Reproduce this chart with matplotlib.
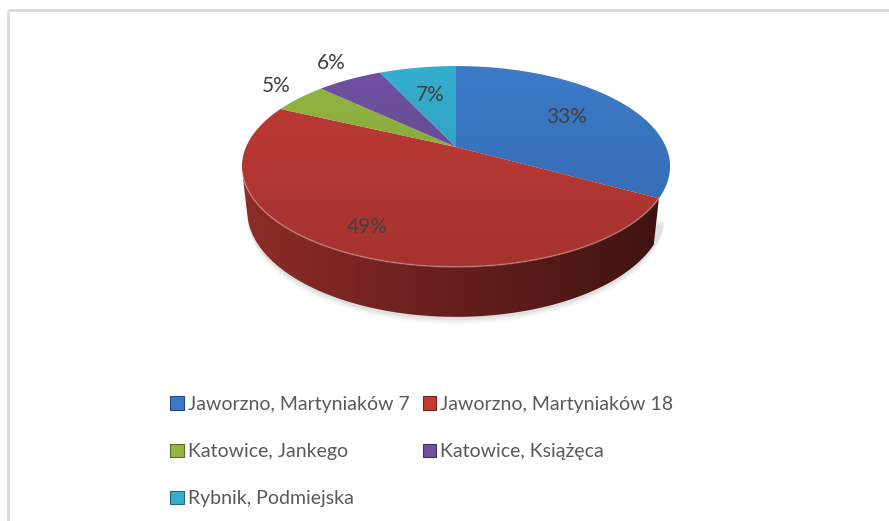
import numpy as np
import matplotlib
matplotlib.use("Agg")
import matplotlib.pyplot as plt
from matplotlib.patches import Polygon, Rectangle
from matplotlib.colors import to_rgb

# data
labels = ["Jaworzno, Martyniaków 7", "Jaworzno, Martyniaków 18",
          "Katowice, Jankego", "Katowice, Książęca", "Rybnik, Podmiejska"]
values = [33, 49, 5, 6, 7]
colors = ["#3c7ac8", "#c03b36", "#93b642", "#6f51a0", "#35aecf"]

# layout of the 3d pie (pixels)
W, H = 889, 521
cx, cy = 456, 147
elev = np.radians(27.4)
dist = 4.577
focal = 961.0
depth = 0.238
label_r = [0.65, 0.8, 1.17, 1.2, 0.62]


def proj(x, y, z):
    # perspective projection of a point of the unit-radius pie
    qy = y + dist * np.cos(elev)
    qz = z - dist * np.sin(elev)
    d = qy * np.cos(elev) - qz * np.sin(elev)
    up = qy * np.sin(elev) + qz * np.cos(elev)
    return cx + focal * x / d, cy - focal * up / d


def arc(t0, t1, z, r=1.0, n=200):
    t = np.radians(np.linspace(t0, t1, n))
    return proj(r * np.cos(t), r * np.sin(t), z)


fig = plt.figure(figsize=(W / 100, H / 100), dpi=100)
ax = fig.add_axes([0, 0, 1, 1])
ax.set_xlim(0, W)
ax.set_ylim(H, 0)
ax.axis("off")

# chart border (only top and left visible)
ax.plot([8, W], [10, 10], color="#d9d9d9", lw=2, solid_capstyle="butt")
ax.plot([8, 8], [10, H], color="#d9d9d9", lw=2, solid_capstyle="butt")

yy, xx = np.mgrid[0:H, 0:W] + 0.5

total = float(sum(values))
fracs = np.array(values) / total
starts = 90 - 360 * np.concatenate([[0], np.cumsum(fracs)[:-1]])
ends = starts - 360 * fracs

# soft shadow under the pie
for k, a in zip([7, 5, 3], [0.03, 0.04, 0.05]):
    sx, sy = arc(-165, -15, -depth)
    sy = sy + k
    ax.add_patch(Polygon(np.column_stack([sx, sy]), closed=True,
                         fc="#000000", alpha=a, ec="none", zorder=1))

# visible part of the side wall
lim = np.degrees(np.arcsin(1.0 / (dist * np.cos(elev))))
vis0, vis1 = -180 + lim, -lim

x_left, x_right = arc(-180, 0, 0)[0].min(), arc(-180, 0, 0)[0].max()
for s, e, c in zip(starts, ends, colors):
    # bring slice angles into the same turn as the visible range
    a0, a1 = e, s
    while a1 > 0:
        a0 -= 360
        a1 -= 360
    lo, hi = max(a0, vis0), min(a1, vis1)
    if lo >= hi:
        continue
    tx, ty = arc(hi, lo, 0)
    bx, by = arc(lo, hi, -depth)
    poly = Polygon(np.column_stack([np.r_[tx, bx], np.r_[ty, by]]),
                   closed=True, fc="none", ec="none")
    ax.add_patch(poly)
    f = 0.74 - 0.42 * np.clip((xx - x_left) / (x_right - x_left), 0, 1)
    img = np.clip(np.dstack([f * v for v in to_rgb(c)]), 0, 1)
    im = ax.imshow(img, extent=(0, W, H, 0), origin="upper", zorder=2,
                   interpolation="bilinear")
    im.set_clip_path(poly)
    # light rim at the top edge
    ax.plot(tx, ty, color="white", alpha=0.25, lw=1.2, zorder=4)

# top face
top_y0 = arc(90, 90, 0, n=1)[1][0]
top_y1 = arc(-90, -90, 0, n=1)[1][0]
for s, e, c in zip(starts, ends, colors):
    px, py = arc(s, e, 0)
    ox, oy = proj(0, 0, 0)
    poly = Polygon(np.column_stack([np.r_[ox, px], np.r_[oy, py]]),
                   closed=True, fc="none", ec="none")
    ax.add_patch(poly)
    f = 1.0 - 0.14 * np.clip((yy - top_y0) / (top_y1 - top_y0), 0, 1)
    img = np.clip(np.dstack([f * v for v in to_rgb(c)]), 0, 1)
    im = ax.imshow(img, extent=(0, W, H, 0), origin="upper", zorder=3,
                   interpolation="bilinear")
    im.set_clip_path(poly)

# percentage labels
for s, e, v, r in zip(starts, ends, values, label_r):
    m = np.radians((s + e) / 2)
    lx, ly = proj(r * np.cos(m), r * np.sin(m), 0)
    if r > 1:
        ly -= 5
    ax.text(lx, ly, "{:.0f}%".format(100 * v / total), ha="center",
            va="center", fontsize=15, color="#404040", family="Lato",
            zorder=5)

# legend, filled row by row
handles = [Rectangle((0, 0), 1, 1, fc=c, ec=tuple(0.6 * v for v in to_rgb(c)),
                     lw=0.8) for c in colors]
order = [0, 2, 4, 1, 3]
leg = ax.legend([handles[i] for i in order], [labels[i] for i in order],
                ncol=2, loc="upper left", bbox_to_anchor=(170 / W, 1 - 396 / H),
                frameon=False, prop={"family": "Lato", "size": 14},
                handlelength=0.7, handleheight=0.7, handletextpad=0.2,
                labelspacing=1.55, columnspacing=0.7, borderpad=0,
                borderaxespad=0)
for t in leg.get_texts():
    t.set_color("#595959")

fig.savefig("out.png", dpi=100)
